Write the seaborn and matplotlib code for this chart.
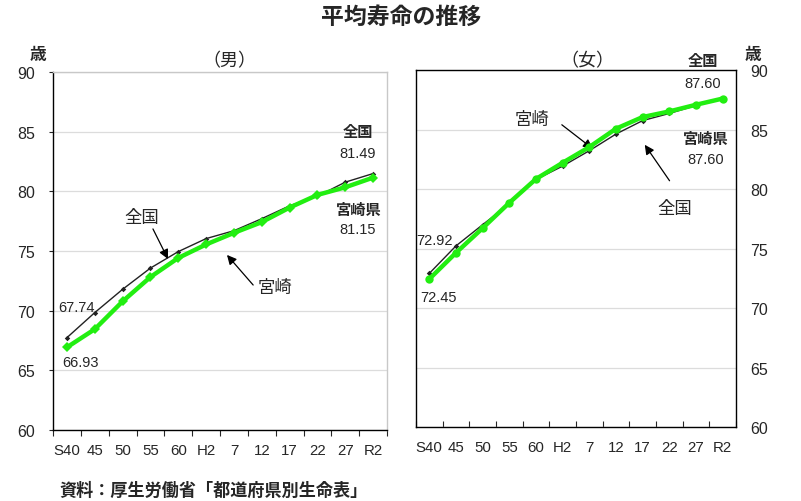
import matplotlib
matplotlib.use('Agg')
import matplotlib.pyplot as plt
from matplotlib.ticker import FixedLocator
import seaborn as sns

# ── data ─────────────────────────────────────────────
years = ['S40', '45', '50', '55', '60', 'H2', '7', '12', '17', '22', '27', 'R2']

male_japan    = [67.74, 69.84, 71.79, 73.57, 74.95, 76.04, 76.70, 77.71, 78.79, 79.59, 80.77, 81.49]
male_miyazaki = [66.93, 68.45, 70.78, 72.82, 74.42, 75.55, 76.52, 77.42, 78.64, 79.70, 80.34, 81.15]

female_japan    = [72.92, 75.23, 77.01, 78.76, 80.80, 81.93, 83.22, 84.62, 85.75, 86.35, 87.01, 87.60]
female_miyazaki = [72.45, 74.65, 76.72, 78.85, 80.85, 82.21, 83.53, 85.07, 86.05, 86.52, 87.08, 87.60]

yticks = [60, 65, 70, 75, 80, 85, 90]

# ── style ────────────────────────────────────────────
sns.set_style('white')
plt.rcParams['font.family'] = ['Liberation Sans', 'Noto Sans CJK JP']
plt.rcParams['axes.unicode_minus'] = False

GREEN = '#22EE11'
GRID = '#dcdcdc'

fig = plt.figure(figsize=(8.01, 5.02), dpi=100)
axL = fig.add_axes([0.0662, 0.1414, 0.417, 0.7132])
axR = fig.add_axes([0.5193, 0.1468, 0.3995, 0.7118])


def draw(ax, japan, miya, marker, msize):
    sns.lineplot(x=years, y=japan, ax=ax, color='#222222', lw=1.0,
                 marker='D', markersize=2.8, markeredgewidth=0, sort=False, zorder=3)
    sns.lineplot(x=years, y=miya, ax=ax, color=GREEN, lw=3.2,
                 marker=marker, markersize=msize, markeredgewidth=0, sort=False, zorder=4)
    ax.set_xlim(-0.5, len(years) - 0.5)
    ax.set_ylim(60, 90)
    ax.set_yticks(yticks)
    ax.set_xticks(range(len(years)))
    ax.set_xticklabels(years, fontsize=10.8)
    ax.xaxis.set_minor_locator(FixedLocator([i - 0.5 for i in range(len(years) + 1)]))
    ax.yaxis.grid(True, color=GRID, lw=0.9)
    ax.xaxis.grid(False)
    ax.set_axisbelow(True)
    ax.set_xlabel('')
    ax.set_ylabel('')


# ── left: male ───────────────────────────────────────
draw(axL, male_japan, male_miyazaki, 'D', 5)
for s in ['left', 'bottom']:
    axL.spines[s].set_color('black')
    axL.spines[s].set_linewidth(1.0)
for s in ['top', 'right']:
    axL.spines[s].set_color('#c8c8c8')
    axL.spines[s].set_linewidth(1.0)
axL.tick_params(axis='x', which='major', length=0, pad=9)
axL.tick_params(axis='x', which='minor', length=4, width=0.8, direction='out', bottom=True)
axL.tick_params(axis='y', length=3, width=0.8, direction='out', left=True, labelsize=11.5, pad=10)

axL.text(10.46, 84.98, '全国', ha='center', va='center', fontsize=11, fontweight='bold')
axL.text(10.46, 83.22, '81.49', ha='center', va='center', fontsize=10.5)
axL.text(10.50, 78.44, '宮崎県', ha='center', va='center', fontsize=11, fontweight='bold')
axL.text(10.46, 76.85, '81.15', ha='center', va='center', fontsize=10.5)
axL.text(0.36, 70.31, '67.74', ha='center', va='center', fontsize=10.5)
axL.text(0.47, 65.70, '66.93', ha='center', va='center', fontsize=10.5)

arrow = dict(arrowstyle='-|>', color='black', lw=0.9, mutation_scale=14, shrinkA=0, shrinkB=0)
axL.annotate('', xy=(3.63, 74.33), xytext=(3.09, 76.85), arrowprops=arrow)
axL.text(2.70, 77.85, '全国', ha='center', va='center', fontsize=12.5)
axL.annotate('', xy=(5.75, 74.67), xytext=(6.69, 72.15), arrowprops=arrow)
axL.text(7.48, 71.99, '宮崎', ha='center', va='center', fontsize=12.5)

# ── right: female ────────────────────────────────────
draw(axR, female_japan, female_miyazaki, 'o', 6)
for s in axR.spines.values():
    s.set_color('black')
    s.set_linewidth(1.0)
axR.yaxis.tick_right()
axR.tick_params(axis='y', length=0, labelsize=11.5, pad=10, left=False, right=False)
axR.tick_params(axis='x', which='major', length=0, pad=9)
axR.tick_params(axis='x', which='minor', length=4, width=0.8, direction='in', bottom=True)

axR.text(10.25, 90.78, '全国', ha='center', va='center', fontsize=11, fontweight='bold')
axR.text(10.25, 88.93, '87.60', ha='center', va='center', fontsize=10.5)
axR.text(10.36, 84.23, '宮崎県', ha='center', va='center', fontsize=11, fontweight='bold')
axR.text(10.36, 82.55, '87.60', ha='center', va='center', fontsize=10.5)
axR.text(0.21, 75.74, '72.92', ha='center', va='center', fontsize=10.5)
axR.text(0.36, 70.92, '72.45', ha='center', va='center', fontsize=10.5)

axR.annotate('', xy=(6.13, 83.39), xytext=(4.97, 85.40), arrowprops=arrow)
axR.text(3.84, 85.91, '宮崎', ha='center', va='center', fontsize=12.5)
axR.annotate('', xy=(8.08, 83.72), xytext=(9.01, 80.70), arrowprops=arrow)
axR.text(9.20, 78.43, '全国', ha='center', va='center', fontsize=12.5)

# ── figure texts ─────────────────────────────────────
W, H = 801, 502
def ftext(x, y, s, **kw):
    fig.text(x / W, 1 - y / H, s, ha='center', va='center', **kw)

ftext(401, 17, '平均寿命の推移', fontsize=16.5, fontweight='bold')
ftext(38, 55, '歳', fontsize=12, fontweight='bold')
ftext(753, 55, '歳', fontsize=12, fontweight='bold')
ftext(229, 62, '（男）', fontsize=13)
ftext(587, 62, '（女）', fontsize=13)
ftext(214, 490, '資料：厚生労働省「都道府県別生命表」', fontsize=12.3, fontweight='bold')

fig.savefig('out.png', dpi=100, facecolor='white')
